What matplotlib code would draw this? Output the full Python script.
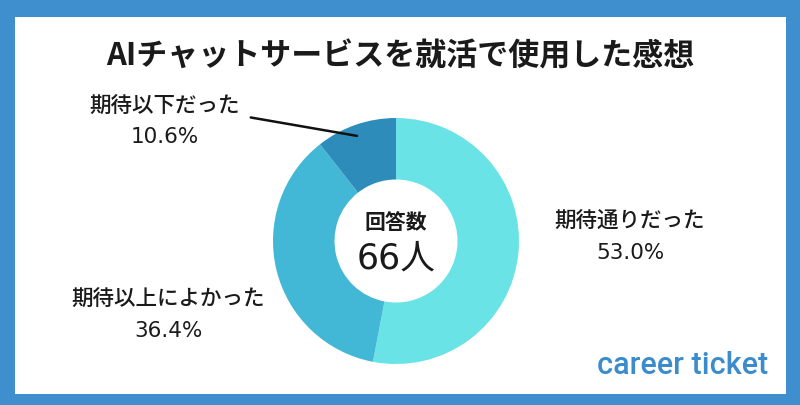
import matplotlib.pyplot as plt
import numpy as np
from matplotlib.patches import Rectangle

plt.rcParams['font.family'] = ['Noto Sans CJK JP', 'DejaVu Sans']

title = "AIチャットサービスを就活で使用した感想"
categories = ["期待通りだった", "期待以上によかった", "期待以下だった"]
shares = [53.0, 36.4, 10.6]
colors = ["#6ae3e6", "#43b8d6", "#2e8cbb"]
respondents = 66

W, H = 800, 405
fig = plt.figure(figsize=(W / 100, H / 100), dpi=100)
fig.patch.set_facecolor("#3f8fcf")

# white panel inside the blue frame
bg = fig.add_axes([0, 0, 1, 1], zorder=0)
bg.add_patch(Rectangle((15 / W, 11 / H), (786 - 15) / W, (388 - 11) / H,
                       transform=bg.transAxes, facecolor="white",
                       edgecolor="none"))
bg.axis("off")

cx, cy, r = 396, 405 - 241, 123
ax = fig.add_axes([(cx - r) / W, (cy - r) / H, 2 * r / W, 2 * r / H],
                  zorder=1)
wedges, _ = ax.pie(shares, colors=colors, startangle=90, counterclock=False,
                   radius=1.0, wedgeprops=dict(width=0.5, edgecolor="none"))
ax.set_xlim(-1, 1)
ax.set_ylim(-1, 1)
ax.set_aspect("equal")
ax.axis("off")

ax.text(0, 0.15, "回答数", ha="center", va="center", fontsize=15,
        fontweight="bold", color="#1a1a1a")
ax.text(0, -0.14, f"{respondents}人", ha="center", va="center", fontsize=25,
        color="#1a1a1a", family=["DejaVu Sans", "Noto Sans CJK JP"])

fig.text(0.5, 1 - 56 / H, title, ha="center", va="center", fontsize=22.3,
         fontweight="bold", color="#1a1a1a")

label_pos = [(630, 222, 253), (168, 300, 331), (165, 107, 137)]
for name, val, (x, y1, y2) in zip(categories, shares, label_pos):
    fig.text(x / W, 1 - y1 / H, name, ha="center", va="center", fontsize=15.5,
             fontweight="medium", color="#1a1a1a")
    fig.text(x / W, 1 - y2 / H, f"{val:.1f}%", ha="center", va="center",
             fontsize=15.5, color="#1a1a1a", family="DejaVu Sans")

# leader line for the small slice
w = wedges[2]
mid = np.deg2rad((w.theta1 + w.theta2) / 2)
ax.annotate("", xy=(0.9 * np.cos(mid), 0.9 * np.sin(mid)),
            xytext=(248 / W, 1 - 117 / H), textcoords="figure fraction",
            arrowprops=dict(arrowstyle="-", color="#111111", lw=1.8))

fig.text(683 / W, 1 - 365 / H, "career ticket", ha="center", va="center",
         fontsize=22, fontweight="medium", color="#3a8ccc",
         family="Roboto")

fig.savefig("out.png", dpi=100, facecolor=fig.get_facecolor())
